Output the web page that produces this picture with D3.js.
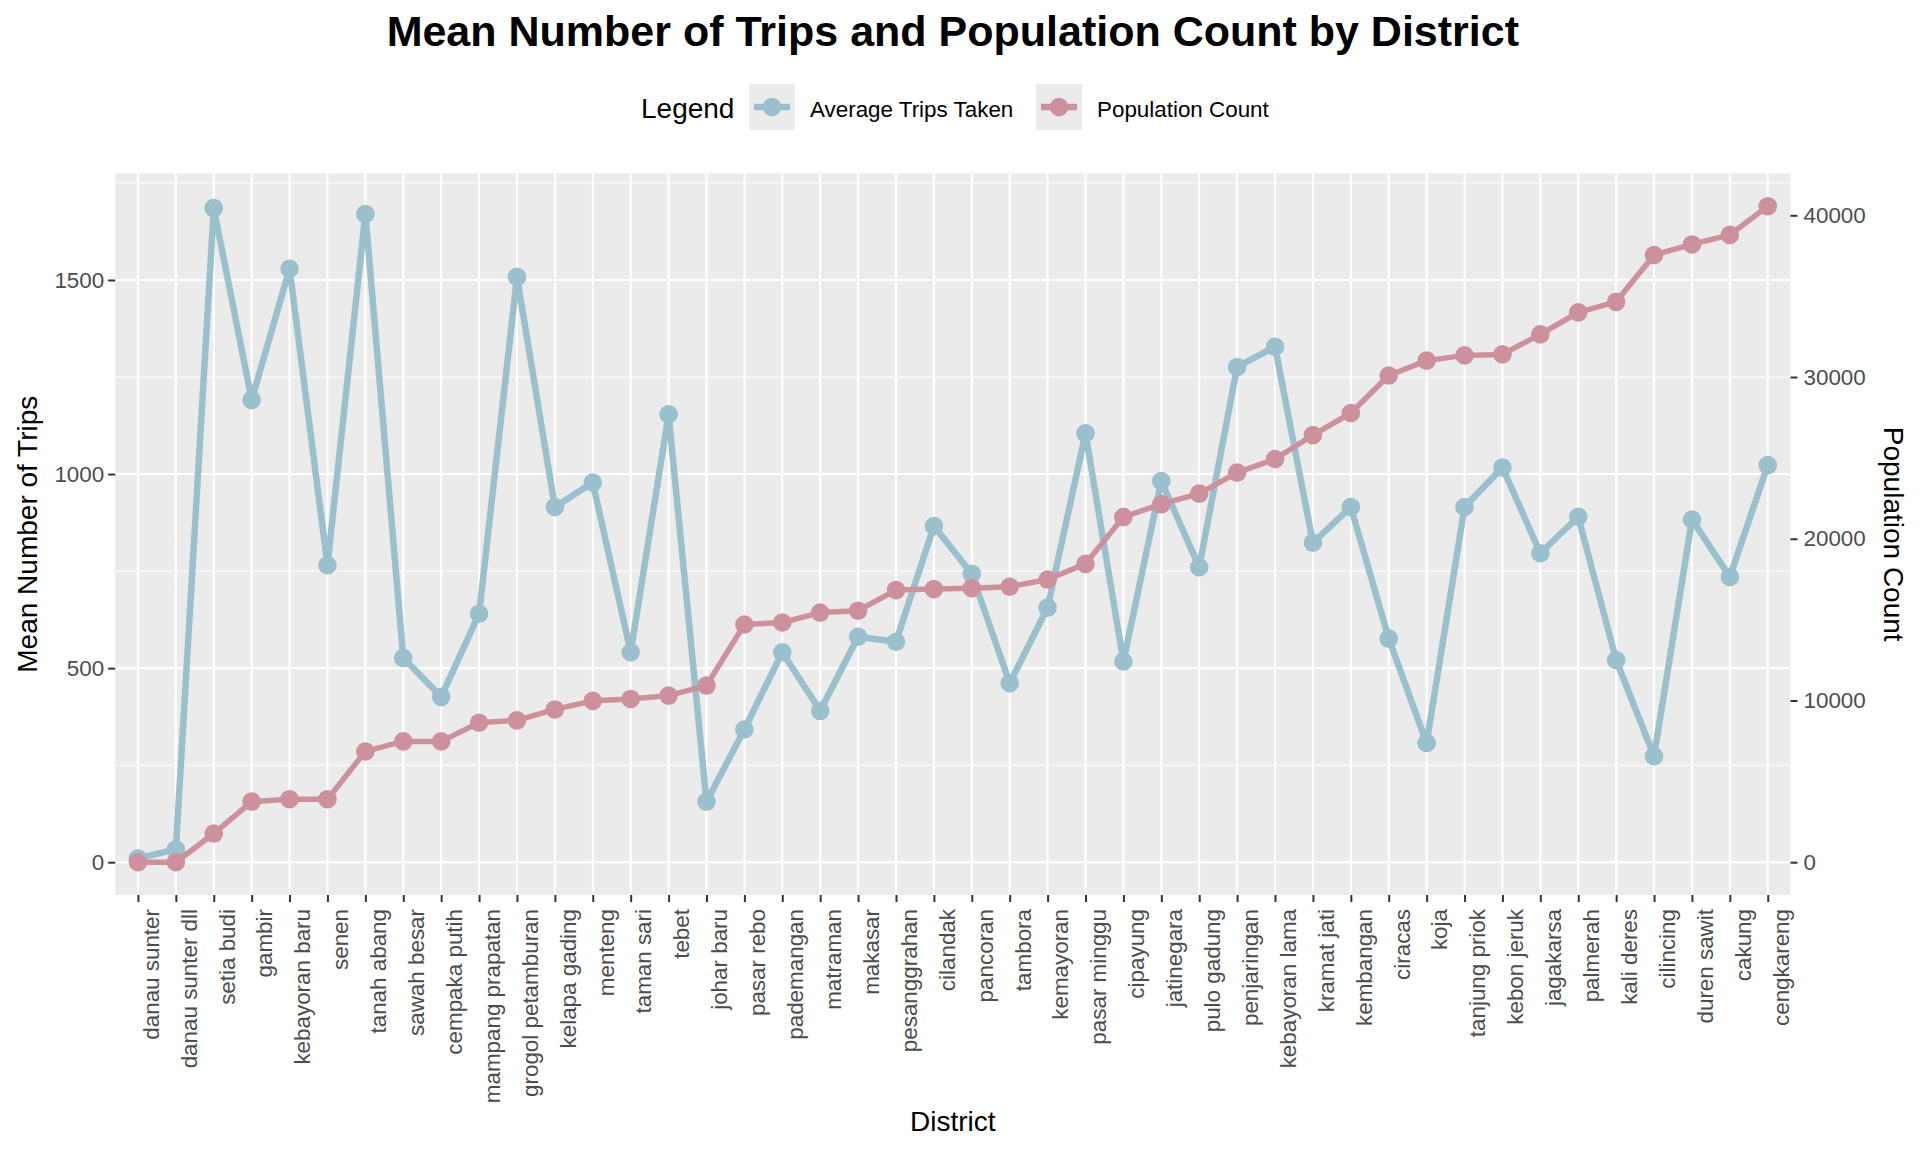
<!DOCTYPE html>
<html>
<head>
<meta charset="utf-8">
<script src="https://cdn.jsdelivr.net/npm/d3@7"></script>
<style>
  html, body { margin: 0; padding: 0; background: #fff; }
  svg { display: block; font-family: "Liberation Sans", Arial, sans-serif; }
</style>
</head>
<body>
<svg id="chart" width="1920" height="1152"></svg>
<script>
// ---- data ----
const districts = ["danau sunter", "danau sunter dll", "setia budi", "gambir", "kebayoran baru", "senen",
  "tanah abang", "sawah besar", "cempaka putih", "mampang prapatan", "grogol petamburan", "kelapa gading",
  "menteng", "taman sari", "tebet", "johar baru", "pasar rebo", "pademangan", "matraman", "makasar",
  "pesanggrahan", "cilandak", "pancoran", "tambora", "kemayoran", "pasar minggu", "cipayung", "jatinegara",
  "pulo gadung", "penjaringan", "kebayoran lama", "kramat jati", "kembangan", "ciracas", "koja",
  "tanjung priok", "kebon jeruk", "jagakarsa", "palmerah", "kali deres", "cilincing", "duren sawit",
  "cakung", "cengkareng"];
const avgTrips = [10, 33, 1685, 1191, 1529, 765, 1670, 526, 426, 640, 1508, 915, 978, 541, 1154, 156,
  342, 541, 390, 581, 568, 866, 743, 461, 656, 1105, 517, 982, 760, 1276, 1328, 823, 915, 576, 307,
  915, 1017, 796, 890, 521, 273, 883, 735, 1023];
const populationCount = [0, 0, 1771, 3749, 3896, 3896, 6849, 7470, 7470, 8620, 8767, 9446, 9977, 10095,
  10300, 10922, 14700, 14820, 15433, 15552, 16826, 16885, 16944, 17033, 17476, 18450, 21344, 22140,
  22791, 24090, 24930, 26410, 27775, 30096, 31013, 31338, 31397, 32639, 33999, 34649, 37546, 38197,
  38788, 40562];
const popFactor = 24;               // secondary axis: population = trips-axis value * 24
const leftTicks = [0, 500, 1000, 1500];
const leftMinor = [250, 750, 1250, 1750];
const rightTicks = [0, 10000, 20000, 30000, 40000];
const seriesNames = ["Average Trips Taken", "Population Count"];
const seriesColors = ["#9AC0CD", "#CD919E"];

// ---- layout ----
const svg = d3.select("#chart");
const P = { left: 115.2, right: 1790.5, top: 173.4, bottom: 895 };
const FONT = '"Liberation Sans", Arial, sans-serif';

const x = d3.scalePoint().domain(districts).range([P.left, P.right]).padding(0.6);

const popScaled = populationCount.map(v => v / popFactor);
const lo = Math.min(d3.min(avgTrips), d3.min(popScaled));
const hi = Math.max(d3.max(avgTrips), d3.max(popScaled));
const pad = (hi - lo) * 0.05;
const y = d3.scaleLinear().domain([lo - pad, hi + pad]).range([P.bottom, P.top]);
const yPop = d3.scaleLinear().domain(y.domain().map(v => v * popFactor)).range(y.range());

// panel
svg.append("rect").attr("x", P.left).attr("y", P.top)
  .attr("width", P.right - P.left).attr("height", P.bottom - P.top).attr("fill", "#EBEBEB");

const grid = svg.append("g");
leftMinor.forEach(v => {
  if (y(v) >= P.top && y(v) <= P.bottom)
    grid.append("line").attr("x1", P.left).attr("x2", P.right).attr("y1", y(v)).attr("y2", y(v))
      .attr("stroke", "#fff").attr("stroke-width", 1);
});
leftTicks.forEach(v => {
  grid.append("line").attr("x1", P.left).attr("x2", P.right).attr("y1", y(v)).attr("y2", y(v))
    .attr("stroke", "#fff").attr("stroke-width", 2);
});
districts.forEach(d => {
  grid.append("line").attr("x1", x(d)).attr("x2", x(d)).attr("y1", P.top).attr("y2", P.bottom)
    .attr("stroke", "#fff").attr("stroke-width", 2);
});

// left axis
const leftAxis = d3.axisLeft(y).tickValues(leftTicks).tickFormat(d3.format("d")).tickSize(7).tickPadding(4);
const gL = svg.append("g").attr("transform", `translate(${P.left},0)`).call(leftAxis);
gL.select(".domain").remove();
gL.selectAll(".tick line").attr("stroke", "#333").attr("stroke-width", 2);
gL.selectAll(".tick text").attr("fill", "#4D4D4D").style("font-size", "22.4px").style("font-family", FONT);

// right axis
const rightAxis = d3.axisRight(yPop).tickValues(rightTicks).tickFormat(d3.format("d")).tickSize(7).tickPadding(6);
const gR = svg.append("g").attr("transform", `translate(${P.right},0)`).call(rightAxis);
gR.select(".domain").remove();
gR.selectAll(".tick line").attr("stroke", "#333").attr("stroke-width", 2);
gR.selectAll(".tick text").attr("fill", "#4D4D4D").style("font-size", "22.4px").style("font-family", FONT);

// bottom axis
const bottomAxis = d3.axisBottom(x).tickSize(7).tickSizeOuter(0);
const gB = svg.append("g").attr("transform", `translate(0,${P.bottom})`).call(bottomAxis);
gB.select(".domain").remove();
gB.selectAll(".tick line").attr("stroke", "#333").attr("stroke-width", 2);
gB.selectAll(".tick text")
  .attr("fill", "#4D4D4D").style("font-size", "22.4px").style("font-family", FONT)
  .attr("text-anchor", "end").attr("dy", null).attr("y", null)
  .attr("transform", "translate(20.3,14) rotate(-90)");

// series
function drawSeries(vals, color, width) {
  const line = d3.line().x((d, i) => x(districts[i])).y(d => y(d));
  svg.append("path").datum(vals).attr("d", line).attr("fill", "none")
    .attr("stroke", color).attr("stroke-width", width).attr("stroke-linejoin", "round");
  svg.append("g").selectAll("circle").data(vals).join("circle")
    .attr("cx", (d, i) => x(districts[i])).attr("cy", d => y(d)).attr("r", 9.3).attr("fill", color);
}
drawSeries(avgTrips, seriesColors[0], 6.5);
drawSeries(popScaled, seriesColors[1], 5.5);

// titles
svg.append("text").attr("x", (P.left + P.right) / 2).attr("y", 46).attr("text-anchor", "middle")
  .style("font-size", "43px").style("font-weight", "bold").attr("fill", "#000").text("Mean Number of Trips and Population Count by District");
svg.append("text").attr("x", (P.left + P.right) / 2).attr("y", 1131).attr("text-anchor", "middle")
  .style("font-size", "28px").attr("fill", "#000").text("District");
svg.append("text").attr("transform", `translate(37,${(P.top + P.bottom) / 2}) rotate(-90)`)
  .attr("text-anchor", "middle").style("font-size", "28px").attr("fill", "#000").text("Mean Number of Trips");
svg.append("text").attr("transform", `translate(1884,${(P.top + P.bottom) / 2}) rotate(90)`)
  .attr("text-anchor", "middle").style("font-size", "28px").attr("fill", "#000").text("Population Count");

// legend
const lg = svg.append("g");
lg.append("text").attr("x", 641).attr("y", 118).style("font-size", "28px").attr("fill", "#000").text("Legend");
const keyX = [749, 1036];
seriesNames.forEach((name, i) => {
  const kx = keyX[i], ky = 84, ks = 46;
  lg.append("rect").attr("x", kx).attr("y", ky).attr("width", ks).attr("height", ks).attr("fill", "#EBEBEB");
  lg.append("line").attr("x1", kx + 5).attr("x2", kx + ks - 5).attr("y1", ky + ks / 2).attr("y2", ky + ks / 2)
    .attr("stroke", seriesColors[i]).attr("stroke-width", 6.5);
  lg.append("circle").attr("cx", kx + ks / 2).attr("cy", ky + ks / 2).attr("r", 9.3).attr("fill", seriesColors[i]);
  lg.append("text").attr("x", kx + ks + 15).attr("y", 117).style("font-size", "22.4px").attr("fill", "#000").text(name);
});
</script>
</body>
</html>
